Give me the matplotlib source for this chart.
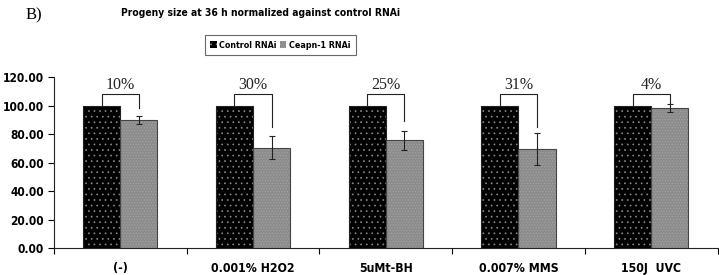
import matplotlib
matplotlib.use("Agg")
import matplotlib.pyplot as plt
from matplotlib.patches import Patch
import numpy as np

categories = ["(-)", "0.001% H2O2", "5uMt-BH", "0.007% MMS", "150J  UVC"]
control = [100, 100, 100, 100, 100]
ceapn = [90, 70.5, 75.5, 69.5, 98]
ceapn_err = [2.8, 8.0, 6.7, 11.5, 2.9]
pct_labels = ["10%", "30%", "25%", "31%", "4%"]
bracket_end = [98.5, 85, 89, 85, 102]
yticks = [0, 20, 40, 60, 80, 100, 120]

plt.rcParams["hatch.linewidth"] = 0.5

sans = ["DejaVu Sans", "Liberation Sans"]
serif = ["Liberation Serif", "DejaVu Serif"]

fig = plt.figure(figsize=(7.19, 2.75), dpi=100)
ax = fig.add_axes([0.075, 0.098, 0.923, 0.622])

x = np.arange(len(categories))
w = 0.28
xb = x - w / 2
xg = x + w / 2

# control bars: black with white dots
ax.bar(xb, control, width=w, color="black", hatch="...", edgecolor="#8a8a8a", linewidth=0, zorder=2)
ax.bar(xb, control, width=w, color="none", edgecolor="#222222", linewidth=0.8, zorder=3)
# Ceapn-1 bars: grey fine pattern
ax.bar(xg, ceapn, width=w, color="#8c8c8c", hatch="......", edgecolor="#a4a4a4", linewidth=0, zorder=2)
ax.bar(xg, ceapn, width=w, color="none", edgecolor="#444444", linewidth=0.8, zorder=3)
ax.errorbar(xg, ceapn, yerr=ceapn_err, fmt="none", ecolor="#222222", elinewidth=0.8, capsize=2.5, capthick=0.8, zorder=4)

top = 108
for i in range(len(categories)):
    ax.plot([xb[i], xb[i], xg[i], xg[i]], [control[i], top, top, bracket_end[i]],
            color="#222222", lw=0.8, zorder=4, clip_on=False)
    ax.text(x[i], top + 1, pct_labels[i], ha="center", va="bottom",
            family=serif, fontsize=11.5, color="#222222")

ax.set_xlim(-0.5, len(categories) - 0.5)
ax.set_ylim(0, 120)
ax.set_yticks(yticks)
ax.set_yticklabels([f"{v:.2f}" for v in yticks], family=sans, fontweight="bold",
                   fontstretch="condensed", fontsize=8.6)
ax.set_xticks(np.arange(-0.5, len(categories) + 0.5, 1.0))
ax.set_xticklabels([])
ax.set_xticks(x, minor=True)
ax.set_xticklabels(categories, minor=True, family=sans, fontweight="bold",
                   fontstretch="condensed", fontsize=8.8)
ax.tick_params(axis="x", which="minor", length=0, pad=10)
ax.tick_params(axis="x", which="major", length=4, width=0.8, direction="out")
ax.tick_params(axis="y", length=4, width=0.8, direction="out", pad=3)
for s in ["top", "right"]:
    ax.spines[s].set_visible(False)
for s in ["left", "bottom"]:
    ax.spines[s].set_linewidth(0.8)
    ax.spines[s].set_color("#222222")

fig.text(0.363, 0.952, "Progeny size at 36 h normalized against control RNAi",
         ha="center", va="center", family=sans, fontweight="bold",
         fontstretch="condensed", fontsize=7.4)
fig.text(0.035, 0.945, "B)", ha="left", va="center", family=serif, fontsize=12)

handles = [Patch(facecolor="black", edgecolor="#8a8a8a", hatch="...", linewidth=0),
           Patch(facecolor="#8c8c8c", edgecolor="#a4a4a4", hatch="......", linewidth=0)]
leg = fig.legend(handles, ["Control RNAi", "Ceapn-1 RNAi"], loc="center",
                 bbox_to_anchor=(0.39, 0.836), ncol=2, frameon=True, fancybox=False,
                 handlelength=0.7, handleheight=0.7, handletextpad=0.3, columnspacing=0.35,
                 borderpad=0.65,
                 prop={"family": sans, "weight": "bold", "stretch": "condensed", "size": 6.4})
leg.get_frame().set_edgecolor("#444444")
leg.get_frame().set_linewidth(0.8)

fig.savefig("out.png", dpi=100)
